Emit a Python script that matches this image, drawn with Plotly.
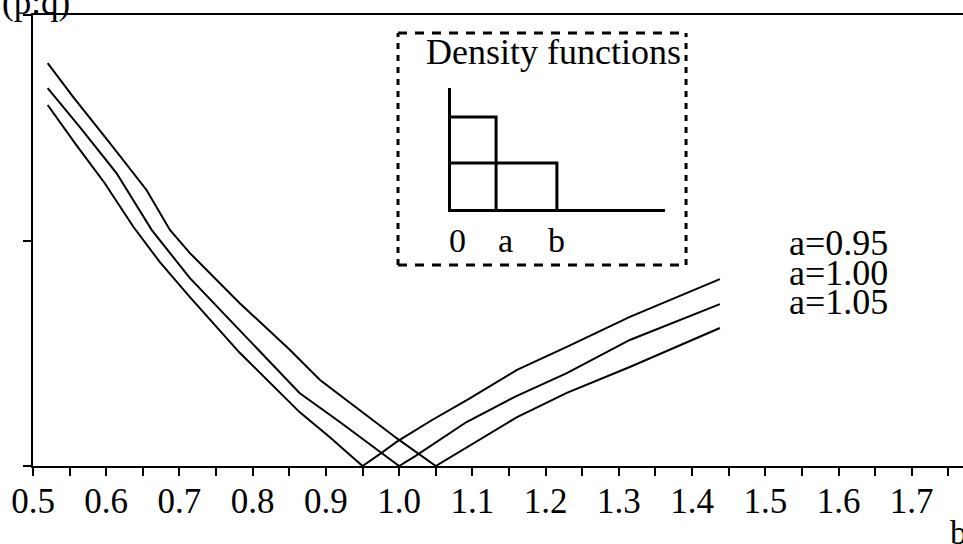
import plotly.graph_objects as go

# ---- divergence D(p:q) against b, one curve per value of a ----
b_a095 = [0.52, 0.559, 0.598, 0.637, 0.673, 0.714, 0.782, 0.864, 0.905, 0.95,
          0.975, 0.997, 1.045, 1.093, 1.161, 1.229, 1.315, 1.438]
d_a095 = [1.601, 1.424, 1.254, 1.061, 0.905, 0.750, 0.503, 0.239, 0.129, 0.0,
          0.056, 0.108, 0.204, 0.293, 0.426, 0.528, 0.661, 0.829]

b_a100 = [0.52, 0.564, 0.614, 0.662, 0.714, 0.782, 0.864, 0.919, 0.977, 1.0,
          1.022, 1.092, 1.160, 1.229, 1.315, 1.438]
d_a100 = [1.676, 1.503, 1.299, 1.047, 0.834, 0.603, 0.324, 0.195, 0.056, 0.0,
          0.044, 0.195, 0.310, 0.412, 0.559, 0.718]

b_a105 = [0.52, 0.555, 0.605, 0.655, 0.687, 0.714, 0.782, 0.851, 0.892, 0.946,
          0.998, 1.05, 1.093, 1.161, 1.229, 1.315, 1.438]
d_a105 = [1.787, 1.636, 1.432, 1.224, 1.047, 0.945, 0.723, 0.514, 0.381, 0.248,
          0.120, 0.0, 0.084, 0.217, 0.324, 0.439, 0.612]

curve_labels = ["a=0.95", "a=1.00", "a=1.05"]

# ---- inset: the two uniform densities on [0, a] and [0, b] ----
inset_a, inset_h_a = 1.0, 2.0
inset_b, inset_h_b = 2.35, 1.0
inset_labels = ["0", "a", "b"]

FONT = "Liberation Serif"
INK = "black"

fig = go.Figure()

for bx, dy in [(b_a095, d_a095), (b_a100, d_a100), (b_a105, d_a105)]:
    fig.add_trace(go.Scatter(x=bx, y=dy, mode="lines",
                             line=dict(color=INK, width=2),
                             showlegend=False, hoverinfo="skip"))

# inset step densities
fig.add_trace(go.Scatter(x=[0, inset_a, inset_a], y=[inset_h_a, inset_h_a, 0],
                         mode="lines", line=dict(color=INK, width=3),
                         xaxis="x2", yaxis="y2", showlegend=False, hoverinfo="skip"))
fig.add_trace(go.Scatter(x=[0, inset_b, inset_b], y=[inset_h_b, inset_h_b, 0],
                         mode="lines", line=dict(color=INK, width=3),
                         xaxis="x2", yaxis="y2", showlegend=False, hoverinfo="skip"))

fig.update_layout(
    width=963, height=544,
    margin=dict(l=33, r=0, t=15, b=78),
    paper_bgcolor="white", plot_bgcolor="white",
    font=dict(family=FONT, color=INK, size=34),
    xaxis=dict(range=[0.5, 1.77], tick0=0.5, dtick=0.1, tickformat=".1f",
               ticks="outside", ticklen=8, tickwidth=2, tickcolor=INK,
               ticklabelstandoff=-5,
               showline=True, linewidth=2, linecolor=INK, mirror=True,
               showgrid=False, zeroline=False,
               tickfont=dict(family=FONT, size=35, color=INK),
               minor=dict(dtick=0.05, ticks="outside", ticklen=8,
                          tickwidth=2, tickcolor=INK, showgrid=False)),
    yaxis=dict(range=[0, 2], tickvals=[0, 1, 2], showticklabels=False,
               ticks="outside", ticklen=8, tickwidth=2, tickcolor=INK,
               showline=True, linewidth=2, linecolor=INK,
               showgrid=False, zeroline=False),
    xaxis2=dict(domain=[0.4495, 0.6796], anchor="y2", range=[0, 4.75],
                showline=True, linewidth=3, linecolor=INK, showticklabels=False,
                ticks="", showgrid=False, zeroline=False),
    yaxis2=dict(domain=[0.5698, 0.8381], anchor="x2", range=[0, 2.63],
                showline=True, linewidth=3, linecolor=INK, showticklabels=False,
                ticks="", showgrid=False, zeroline=False),
)

# dashed frame around the inset
box_x0, box_x1, box_y0, box_y1 = 0.3925, 0.7022, 0.4457, 0.9601
frame = dict(color=INK, width=3)
fig.add_shape(type="line", xref="paper", yref="paper", x0=box_x0, x1=box_x1,
              y0=box_y1, y1=box_y1, line=dict(frame, dash="9px,8px"))
fig.add_shape(type="line", xref="paper", yref="paper", x0=box_x0, x1=box_x1,
              y0=box_y0, y1=box_y0, line=dict(frame, dash="9px,8px"))
fig.add_shape(type="line", xref="paper", yref="paper", x0=box_x0, x1=box_x0,
              y0=box_y0, y1=box_y1, line=dict(frame, dash="6px,6px"))
fig.add_shape(type="line", xref="paper", yref="paper", x0=box_x1, x1=box_x1,
              y0=box_y0, y1=box_y1, line=dict(frame, dash="6px,6px"))

fig.add_annotation(text="Density functions", xref="paper", yref="paper",
                   x=0.5602, y=0.9667, xanchor="center", yanchor="top",
                   showarrow=False, font=dict(family=FONT, size=36, color=INK))

for lbl, xv, dx in zip(inset_labels, [0, inset_a, inset_b], [6, 9, 0]):
    fig.add_annotation(text=lbl, xref="x2", yref="paper", x=xv, y=0.5455,
                       xshift=dx, xanchor="center", yanchor="top",
                       showarrow=False, font=dict(family=FONT, size=34, color=INK))

for i, lbl in enumerate(curve_labels):
    fig.add_annotation(text=lbl, xref="paper", yref="paper",
                       x=0.8108, y=(466 - (243 + 29.5 * i)) / 451,
                       xanchor="left", yanchor="middle", showarrow=False,
                       font=dict(family=FONT, size=36, color=INK))

# axis captions
fig.add_annotation(text="(p:q)", xref="paper", yref="paper", x=-0.0355, y=1.0754,
                   xanchor="left", yanchor="top", showarrow=False,
                   font=dict(family=FONT, size=35, color=INK))
fig.add_annotation(text="b", xref="paper", yref="paper", x=0.9839, y=-0.102,
                   xanchor="left", yanchor="top", showarrow=False,
                   font=dict(family=FONT, size=34, color=INK))

fig.write_html("out.html", config={"displayModeBar": False})
